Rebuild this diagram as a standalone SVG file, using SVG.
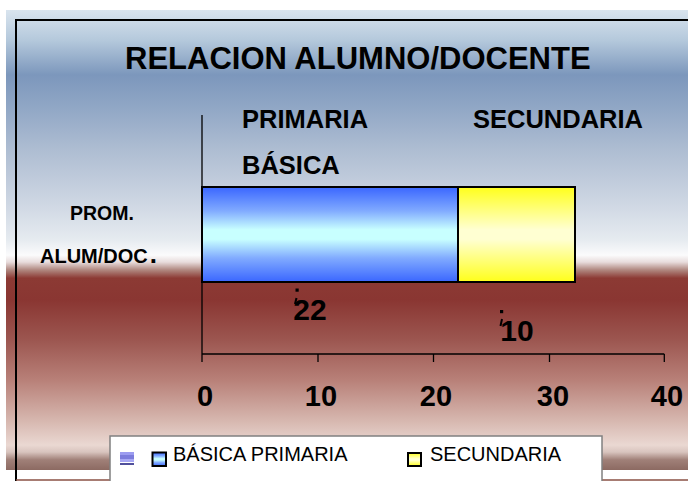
<svg xmlns="http://www.w3.org/2000/svg" width="688" height="481" viewBox="0 0 688 481">
<defs>
<linearGradient id="bg" x1="0" y1="10" x2="0" y2="470" gradientUnits="userSpaceOnUse">
<stop offset="0" stop-color="#d9e4ee"/>
<stop offset="0.065" stop-color="#b5c9dc"/>
<stop offset="0.141" stop-color="#7c97bc"/>
<stop offset="0.217" stop-color="#92a8c6"/>
<stop offset="0.304" stop-color="#aebdd2"/>
<stop offset="0.413" stop-color="#ccd5e2"/>
<stop offset="0.5" stop-color="#e6ebf0"/>
<stop offset="0.533" stop-color="#fbfbfc"/>
<stop offset="0.548" stop-color="#e8dcdc"/>
<stop offset="0.565" stop-color="#b08880"/>
<stop offset="0.583" stop-color="#8c3a34"/>
<stop offset="0.630" stop-color="#8a3632"/>
<stop offset="0.717" stop-color="#9c5650"/>
<stop offset="0.804" stop-color="#b88078"/>
<stop offset="0.891" stop-color="#d6b6ae"/>
<stop offset="0.946" stop-color="#ead8d2"/>
<stop offset="0.961" stop-color="#d8c4be"/>
<stop offset="0.978" stop-color="#a08078"/>
<stop offset="1" stop-color="#8c6a62"/>
</linearGradient>
<linearGradient id="blue" x1="0" y1="0" x2="0" y2="1">
<stop offset="0" stop-color="#3a66ff"/>
<stop offset="0.25" stop-color="#80aaff"/>
<stop offset="0.45" stop-color="#c8ffff"/>
<stop offset="0.55" stop-color="#c8ffff"/>
<stop offset="0.75" stop-color="#80aaff"/>
<stop offset="1" stop-color="#3a66ff"/>
</linearGradient>
<linearGradient id="yellow" x1="0" y1="0" x2="0" y2="1">
<stop offset="0" stop-color="#ffff1a"/>
<stop offset="0.45" stop-color="#ffffd2"/>
<stop offset="0.55" stop-color="#ffffd2"/>
<stop offset="1" stop-color="#ffff1a"/>
</linearGradient>
<linearGradient id="stripes" x1="0" y1="0" x2="0" y2="1">
<stop offset="0" stop-color="#9c9cf0"/>
<stop offset="0.25" stop-color="#9c9cf0"/>
<stop offset="0.25" stop-color="#7c7cdc"/>
<stop offset="0.5" stop-color="#7c7cdc"/>
<stop offset="0.5" stop-color="#a8a8f4"/>
<stop offset="0.75" stop-color="#a8a8f4"/>
<stop offset="0.75" stop-color="#ffffff"/>
<stop offset="0.85" stop-color="#ffffff"/>
<stop offset="0.85" stop-color="#50509c"/>
<stop offset="1" stop-color="#50509c"/>
</linearGradient>
<style>
.b{font-family:"Liberation Sans",Arial,sans-serif;font-weight:bold;fill:#000}
.r{font-family:"Liberation Sans",Arial,sans-serif;fill:#000}
.ax{stroke:#000;stroke-width:1.3;fill:none}
</style>
</defs>
<rect x="0" y="0" width="688" height="481" fill="#ffffff"/>
<rect id="background" x="6" y="10" width="682" height="460" fill="url(#bg)"/>
<g id="frame">
<path d="M16 481 V20 H688" stroke="#000" stroke-width="2" fill="none"/>
<line x1="16" y1="480" x2="688" y2="480" stroke="#8a5044" stroke-width="1.5"/>
</g>
<text id="title" class="b" x="125" y="69" font-size="31">RELACION ALUMNO/DOCENTE</text>
<g id="axes">
<line class="ax" x1="202" y1="115" x2="202" y2="362"/>
<line class="ax" x1="202" y1="354" x2="664.3" y2="354"/>
<line class="ax" x1="318" y1="354" x2="318" y2="362"/>
<line class="ax" x1="433.5" y1="354" x2="433.5" y2="362"/>
<line class="ax" x1="549.5" y1="354" x2="549.5" y2="362"/>
<line class="ax" x1="664.3" y1="354" x2="664.3" y2="362"/>
</g>
<g id="axis-labels" class="b" font-size="29" text-anchor="middle">
<text x="205" y="406">0</text>
<text x="321" y="406">10</text>
<text x="436" y="406">20</text>
<text x="553" y="406">30</text>
<text x="667" y="406">40</text>
</g>
<g id="category-labels" class="b">
<text x="242" y="128" font-size="25.5">PRIMARIA</text>
<text x="242" y="174" font-size="25.5">BÁSICA</text>
<text x="473" y="128" font-size="25.5">SECUNDARIA</text>
<text x="70" y="220" font-size="19.5">PROM.</text>
<text x="40" y="263" font-size="20">ALUM/DOC<tspan dx="2" font-size="26">.</tspan></text>
</g>
<g id="bar-basica">
<rect x="202" y="187" width="256" height="95" fill="url(#blue)" stroke="#000" stroke-width="2"/>
<rect x="295.5" y="288.5" width="3.2" height="3.2" fill="#000"/>
<path d="M296.5 298 L295 304" stroke="#000" stroke-width="2"/>
<text class="b" x="310" y="320" font-size="30" text-anchor="middle">22</text>
</g>
<g id="bar-secundaria">
<rect x="458" y="187" width="117" height="95" fill="url(#yellow)" stroke="#000" stroke-width="2"/>
<rect x="500" y="310" width="3.2" height="3.2" fill="#000"/>
<path d="M502 319 L500.5 326" stroke="#000" stroke-width="2"/>
<text class="b" x="517" y="341" font-size="30" text-anchor="middle">10</text>
</g>
<g id="legend">
<rect x="110" y="436" width="492" height="50" fill="#ffffff" stroke="#808080" stroke-width="1.5"/>
<rect x="120" y="452" width="14" height="13" fill="url(#stripes)"/>
<rect x="152.5" y="452.5" width="13.5" height="13.5" fill="url(#blue)" stroke="#000" stroke-width="2"/>
<text class="r" x="173" y="461" font-size="20">BÁSICA PRIMARIA</text>
<rect x="408" y="453" width="13" height="13" fill="url(#yellow)" stroke="#000" stroke-width="2"/>
<text class="r" x="430" y="461" font-size="20">SECUNDARIA</text>
</g>
</svg>
